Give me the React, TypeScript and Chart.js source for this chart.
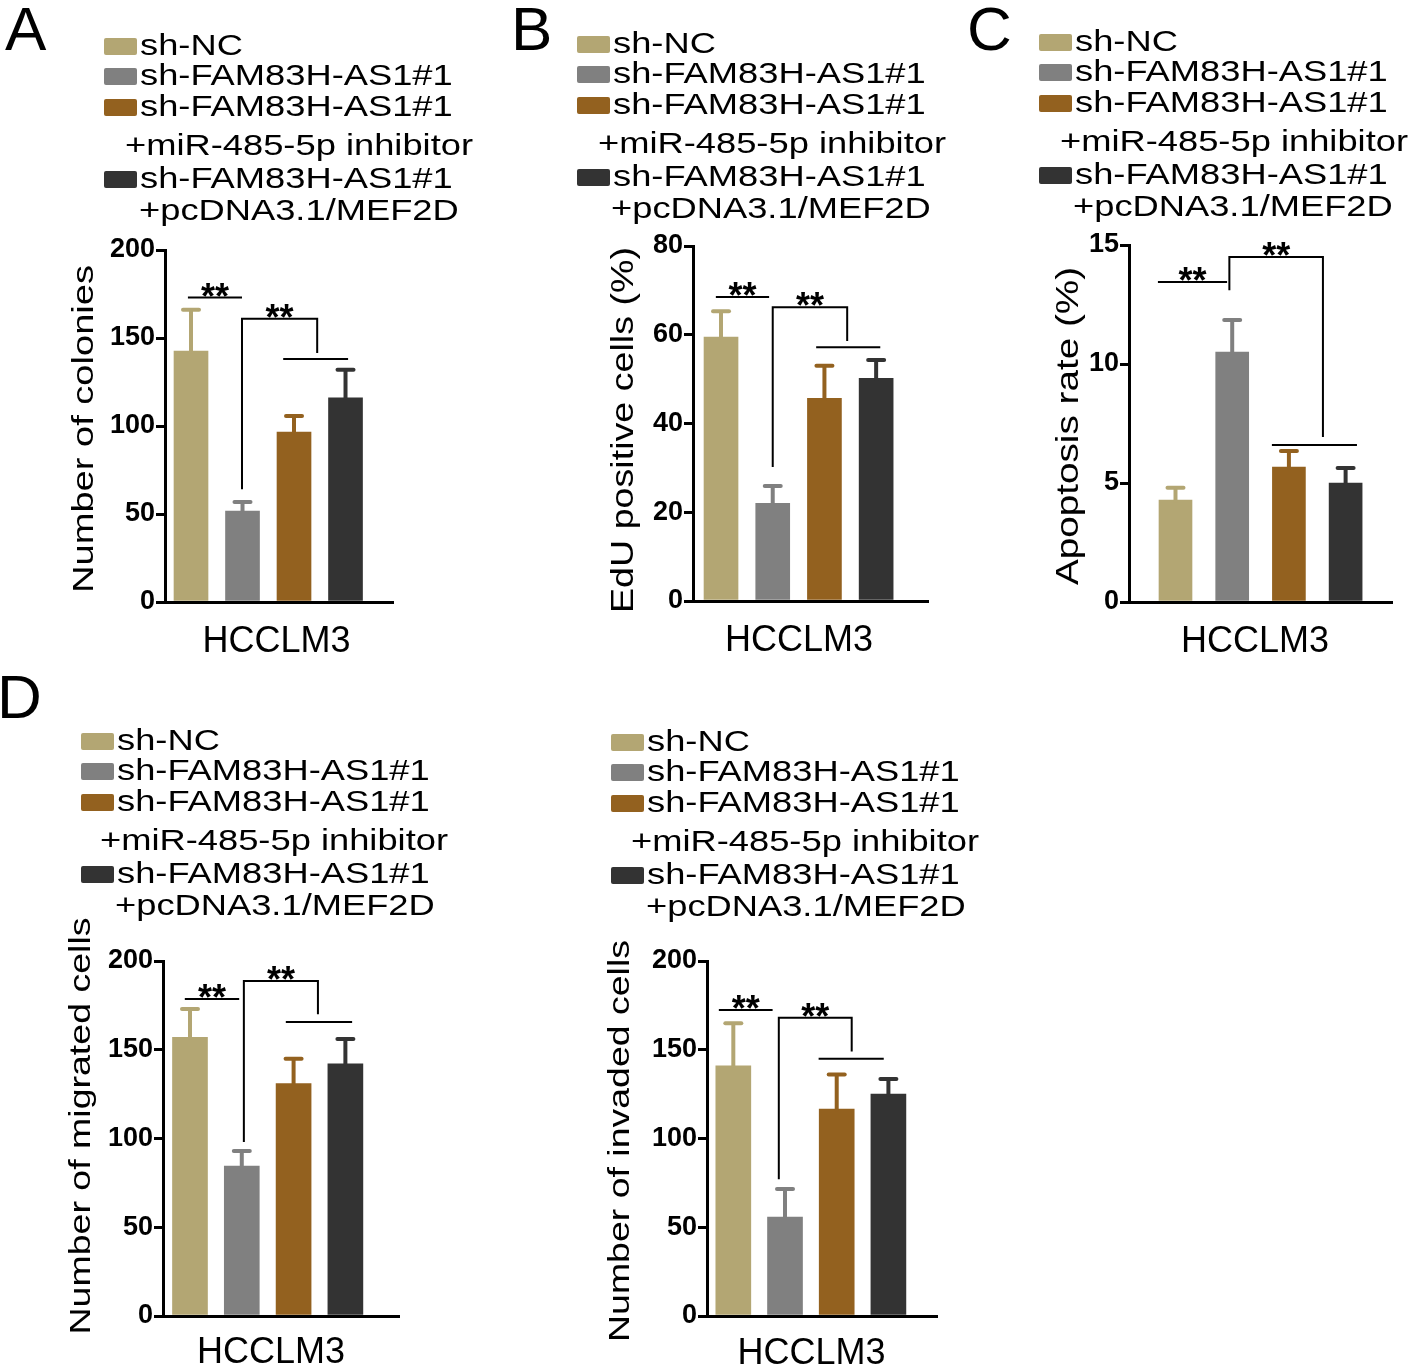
import React, { useEffect, useRef } from 'react';
import { Chart, registerables } from 'chart.js';

Chart.register(...registerables);

const PAGE_W = 1418;
const PAGE_H = 1367;
const FONT = '"Liberation Sans", Arial, Helvetica, sans-serif';

// ---------------- data ----------------
const groupLegend: string[][] = [
  ['sh-NC'],
  ['sh-FAM83H-AS1#1'],
  ['sh-FAM83H-AS1#1', '+miR-485-5p inhibitor'],
  ['sh-FAM83H-AS1#1', '+pcDNA3.1/MEF2D'],
];
const groupColors = ['#b3a673', '#808080', '#93611f', '#333333'];
const categoryLabel = 'HCCLM3';
const sigLabel = '**';

const coloniesMean = [142.5, 51.7, 96.6, 116.0];
const coloniesErr = [23.5, 5.1, 9.1, 16.0];
const coloniesTicks = [0, 50, 100, 150, 200];

const eduMean = [59.5, 22.0, 45.7, 50.2];
const eduErr = [5.8, 3.9, 7.3, 4.1];
const eduTicks = [0, 20, 40, 60, 80];

const apoptosisMean = [4.28, 10.5, 5.67, 5.0];
const apoptosisErr = [0.52, 1.35, 0.67, 0.63];
const apoptosisTicks = [0, 5, 10, 15];

const migratedMean = [157, 84.5, 131, 142];
const migratedErr = [16, 8.5, 14, 14];
const migratedTicks = [0, 50, 100, 150, 200];

const invadedMean = [141, 55.8, 116.6, 125];
const invadedErr = [24, 15.7, 19.4, 8.5];
const invadedTicks = [0, 50, 100, 150, 200];

// significance marks (x in group-index units, y in value units)
// pair: [x0, x1, y]; bracket: [xL, yLow, yTop, xR, yRight]; group: [x0, x1, y]
const coloniesSig = { pair: [-0.06, 0.99, 173], bracket: [0.99, 64, 161, 2.45, 141.5], group: [1.79, 3.05, 138] };
const eduSig = { pair: [-0.1, 0.93, 68.5], bracket: [1.0, 30.2, 66.2, 2.44, 58.6], group: [1.84, 3.08, 57.2] };
const apoptosisSig = { pair: [-0.31, 0.91, 13.45], bracket: [0.95, 13.1, 14.5, 2.6, 6.93], group: [1.7, 3.2, 6.6] };
const migratedSig = { pair: [-0.1, 0.95, 178.6], bracket: [1.04, 98, 188.7, 2.47, 170], group: [1.85, 3.13, 165.6] };
const invadedSig = { pair: [-0.28, 0.76, 172.4], bracket: [0.88, 77, 168, 2.29, 149], group: [1.65, 2.91, 145] };

// ---------------- layout ----------------
const YW = 70; // y-axis box width
const XH = 60; // x-axis box height
const legendOffsets = [0, 30, 61, 100, 133, 165];

type Panel = {
  letter: string; letterX: number; letterY: number;
  title: string; mean: number[]; err: number[]; ticks: number[];
  sig: { pair: number[]; bracket: number[]; group: number[] };
  area: { left: number; top: number; right: number; bottom: number };
  xMin: number; xMax: number; barW: number;
  legend: { x: number; y: number; x2: number; x3: number };
  yTitle: { x: number; cy: number; len: number; size: number };
  xTitle: { cx: number; y: number };
};

const panels: Panel[] = [
  {
    letter: 'A', letterX: 5, letterY: 50,
    title: 'Number of colonies', mean: coloniesMean, err: coloniesErr, ticks: coloniesTicks, sig: coloniesSig,
    area: { left: 165, top: 250, right: 393, bottom: 602 }, xMin: -0.505, xMax: 3.922, barW: 34,
    legend: { x: 140, y: 55, x2: 125, x3: 139 },
    yTitle: { x: 93, cy: 429, len: 328, size: 30 },
    xTitle: { cx: 276.5, y: 652 },
  },
  {
    letter: 'B', letterX: 511, letterY: 50,
    title: 'EdU positive cells (%)', mean: eduMean, err: eduErr, ticks: eduTicks, sig: eduSig,
    area: { left: 693, top: 246, right: 928, bottom: 601 }, xMin: -0.542, xMax: 4.003, barW: 34,
    legend: { x: 613, y: 53, x2: 598, x3: 611 },
    yTitle: { x: 633, cy: 430, len: 366, size: 32 },
    xTitle: { cx: 799, y: 651 },
  },
  {
    letter: 'C', letterX: 967, letterY: 50,
    title: 'Apoptosis rate (%)', mean: apoptosisMean, err: apoptosisErr, ticks: apoptosisTicks, sig: apoptosisSig,
    area: { left: 1129, top: 245, right: 1392, bottom: 602 }, xMin: -0.82, xMax: 3.818, barW: 33,
    legend: { x: 1075, y: 51, x2: 1060, x3: 1073 },
    yTitle: { x: 1078, cy: 426, len: 318, size: 32 },
    xTitle: { cx: 1255, y: 652 },
  },
  {
    letter: 'D', letterX: -3, letterY: 718,
    title: 'Number of migrated cells', mean: migratedMean, err: migratedErr, ticks: migratedTicks, sig: migratedSig,
    area: { left: 163, top: 961, right: 399, bottom: 1316 }, xMin: -0.521, xMax: 4.035, barW: 35,
    legend: { x: 117, y: 750, x2: 100, x3: 115 },
    yTitle: { x: 90, cy: 1126, len: 417, size: 30 },
    xTitle: { cx: 271, y: 1363 },
  },
  {
    letter: '', letterX: 0, letterY: 0,
    title: 'Number of invaded cells', mean: invadedMean, err: invadedErr, ticks: invadedTicks, sig: invadedSig,
    area: { left: 707, top: 961, right: 937, bottom: 1316 }, xMin: -0.509, xMax: 3.94, barW: 35,
    legend: { x: 647, y: 751, x2: 631, x3: 646 },
    yTitle: { x: 629, cy: 1141, len: 402, size: 30 },
    xTitle: { cx: 811.5, y: 1364 },
  },
];

function makeDecor(p: Panel, idx: number) {
  return {
    id: 'decor' + idx,
    afterDatasetsDraw(chart: any) {
      const ctx: CanvasRenderingContext2D = chart.ctx;
      const xs = chart.scales.x;
      const ys = chart.scales.y;
      const meta = chart.getDatasetMeta(0);
      // error bars (upper only)
      meta.data.forEach((bar: any, i: number) => {
        const x = bar.x;
        const yTop = ys.getPixelForValue(p.mean[i] + p.err[i]);
        ctx.save();
        ctx.strokeStyle = groupColors[i];
        ctx.lineWidth = 4;
        ctx.lineCap = 'butt';
        ctx.beginPath();
        ctx.moveTo(x, bar.y + 2);
        ctx.lineTo(x, yTop);
        ctx.stroke();
        ctx.lineCap = 'round';
        ctx.beginPath();
        ctx.moveTo(x - 8, yTop);
        ctx.lineTo(x + 8, yTop);
        ctx.stroke();
        ctx.restore();
      });
      // significance marks
      const px = (v: number) => xs.getPixelForValue(v);
      const py = (v: number) => ys.getPixelForValue(v);
      ctx.save();
      ctx.strokeStyle = '#000';
      ctx.lineWidth = 2;
      ctx.lineCap = 'butt';
      const [a0, a1, ay] = p.sig.pair;
      ctx.beginPath();
      ctx.moveTo(px(a0), py(ay));
      ctx.lineTo(px(a1), py(ay));
      ctx.stroke();
      const [bL, bLow, bTop, bR, bRight] = p.sig.bracket;
      ctx.beginPath();
      ctx.moveTo(px(bL), py(bLow));
      ctx.lineTo(px(bL), py(bTop));
      ctx.lineTo(px(bR), py(bTop));
      ctx.lineTo(px(bR), py(bRight));
      ctx.stroke();
      const [g0, g1, gy] = p.sig.group;
      ctx.beginPath();
      ctx.moveTo(px(g0), py(gy));
      ctx.lineTo(px(g1), py(gy));
      ctx.stroke();
      ctx.fillStyle = '#000';
      ctx.font = `bold 36px ${FONT}`;
      ctx.textAlign = 'center';
      ctx.textBaseline = 'alphabetic';
      ctx.fillText(sigLabel, (px(a0) + px(a1)) / 2, py(ay) + 11);
      ctx.fillText(sigLabel, (px(bL) + px(bR)) / 2, py(bTop) + 11);
      ctx.restore();
    },
    afterDraw(chart: any) {
      const ctx: CanvasRenderingContext2D = chart.ctx;
      ctx.save();
      ctx.fillStyle = '#000';
      ctx.textBaseline = 'alphabetic';
      // panel letter
      if (p.letter) {
        ctx.font = `62px ${FONT}`;
        ctx.textAlign = 'left';
        ctx.fillText(p.letter, p.letterX, p.letterY);
      }
      // legend
      ctx.font = `30px ${FONT}`;
      ctx.textAlign = 'left';
      const sx = 1.21;
      let line = 0;
      groupLegend.forEach((lines, gi) => {
        lines.forEach((txt, li) => {
          const by = p.legend.y + legendOffsets[line];
          let tx = p.legend.x;
          if (li === 0) {
            ctx.fillStyle = groupColors[gi];
            ctx.beginPath();
            (ctx as any).roundRect(p.legend.x - 36, by - 17, 33, 17, 2);
            ctx.fill();
          } else {
            tx = gi === 2 ? p.legend.x2 : p.legend.x3;
          }
          ctx.fillStyle = '#000';
          ctx.save();
          ctx.translate(tx, by);
          ctx.scale(sx, 1);
          ctx.fillText(txt, 0, 0);
          ctx.restore();
          line++;
        });
      });
      // y title
      ctx.font = `${p.yTitle.size}px ${FONT}`;
      const w = ctx.measureText(p.title).width;
      ctx.save();
      ctx.translate(p.yTitle.x, p.yTitle.cy);
      ctx.rotate(-Math.PI / 2);
      ctx.scale(p.yTitle.len / w, 1);
      ctx.textAlign = 'center';
      ctx.fillText(p.title, 0, 0);
      ctx.restore();
      // x label
      ctx.font = `36px ${FONT}`;
      ctx.textAlign = 'center';
      ctx.fillText(categoryLabel, p.xTitle.cx, p.xTitle.y);
      ctx.restore();
    },
  };
}

function PanelChart({ p, idx }: { p: Panel; idx: number }) {
  const ref = useRef<HTMLCanvasElement>(null);
  useEffect(() => {
    if (!ref.current) return;
    const ticks = p.ticks;
    const chart = new Chart(ref.current, {
      type: 'bar',
      data: {
        datasets: [
          {
            label: p.title,
            data: p.mean.map((v, i) => ({ x: i, y: v })),
            backgroundColor: groupColors,
            borderWidth: 0,
            barThickness: p.barW,
          } as any,
        ],
      },
      options: {
        animation: false,
        responsive: false,
        events: [],
        layout: {
          padding: {
            left: p.area.left - YW,
            top: p.area.top,
            right: PAGE_W - p.area.right,
            bottom: PAGE_H - p.area.bottom - XH,
          },
        },
        plugins: {
          legend: { display: false },
          tooltip: { enabled: false },
          title: { display: false },
        },
        scales: {
          x: {
            type: 'linear',
            min: p.xMin,
            max: p.xMax,
            offset: false,
            grid: { display: false, offset: false },
            ticks: { display: false },
            border: { display: true, width: 3, color: '#000' },
            afterFit: (s: any) => {
              s.height = XH;
            },
          },
          y: {
            type: 'linear',
            min: ticks[0],
            max: ticks[ticks.length - 1],
            afterBuildTicks: (s: any) => {
              s.ticks = ticks.map((v) => ({ value: v }));
            },
            ticks: {
              color: '#000',
              padding: 1,
              font: { family: FONT, size: 27, weight: 'bold' },
            },
            grid: {
              display: true,
              drawOnChartArea: false,
              drawTicks: true,
              tickLength: 9,
              lineWidth: 3,
              color: '#000',
            },
            border: { display: true, width: 3, color: '#000' },
            afterFit: (s: any) => {
              s.width = YW;
            },
          },
        },
      } as any,
      plugins: [makeDecor(p, idx)],
    });
    return () => chart.destroy();
  }, [p, idx]);
  return (
    <canvas
      ref={ref}
      width={PAGE_W}
      height={PAGE_H}
      style={{ position: 'absolute', left: 0, top: 0, width: PAGE_W, height: PAGE_H }}
    />
  );
}

export default function App() {
  return (
    <div
      style={{
        position: 'absolute',
        left: 0,
        top: 0,
        width: PAGE_W,
        height: PAGE_H,
        background: '#fff',
        overflow: 'hidden',
      }}
    >
      {panels.map((p, i) => (
        <PanelChart key={i} p={p} idx={i} />
      ))}
    </div>
  );
}
